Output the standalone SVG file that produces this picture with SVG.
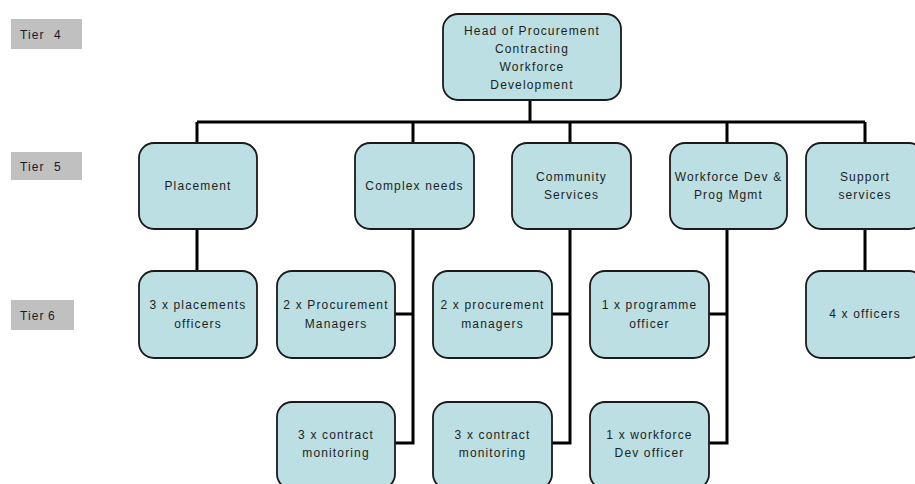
<svg xmlns="http://www.w3.org/2000/svg" width="915" height="484" viewBox="0 0 915 484">
<style>
.tier{fill:#c0c0c0}
.tl{font-family:"Liberation Sans",Arial,sans-serif;font-size:12px;fill:#1a1a2a;letter-spacing:1.1px}
.n{fill:#bbdfe2;stroke:#1a1a1a;stroke-width:1.8}
.t{font-family:"Liberation Sans",Arial,sans-serif;font-size:12px;fill:#1e1e1e;letter-spacing:1.15px;text-anchor:middle}
.c{fill:none;stroke:#000;stroke-width:3}
</style>
<rect width="915" height="484" fill="#fff"/>
<g id="tier-labels">
<g id="tier4"><rect class="tier" x="11" y="19" width="71" height="30"/><text class="tl" x="20" y="39" word-spacing="5">Tier 4</text></g>
<g id="tier5"><rect class="tier" x="11" y="152" width="71" height="28"/><text class="tl" x="20" y="171" word-spacing="5">Tier 5</text></g>
<g id="tier6"><rect class="tier" x="11" y="300" width="63" height="30"/><text class="tl" x="20" y="320" word-spacing="-1">Tier 6</text></g>
</g>
<g id="connectors">
<path class="c" d="M530 100V122M197 122H865M197 122V143M413 122V143M570 122V143M727 122V143M865 122V143"/>
<path class="c" d="M197 229V271M865 229V271"/>
<path class="c" d="M413 229V443H395M413 314H395"/>
<path class="c" d="M570 229V443H552M570 314H552"/>
<path class="c" d="M727 229V443H709M727 314H709"/>
</g>
<g id="head"><rect class="n" x="443" y="14" width="178" height="86" rx="15"/><text class="t" x="532" y="35">Head of Procurement</text><text class="t" x="532" y="53">Contracting</text><text class="t" x="532" y="71">Workforce</text><text class="t" x="532" y="89">Development</text></g>
<g id="placement"><rect class="n" x="139" y="143" width="118" height="86" rx="15"/><text class="t" x="198" y="190">Placement</text></g>
<g id="complex"><rect class="n" x="355" y="143" width="119" height="86" rx="15"/><text class="t" x="414.5" y="190">Complex needs</text></g>
<g id="community"><rect class="n" x="512" y="143" width="119" height="86" rx="15"/><text class="t" x="571.5" y="181">Community</text><text class="t" x="571.5" y="199">Services</text></g>
<g id="workforce"><rect class="n" x="670" y="143" width="117" height="86" rx="15"/><text class="t" x="728.5" y="181">Workforce Dev &amp;</text><text class="t" x="728.5" y="199">Prog Mgmt</text></g>
<g id="support"><rect class="n" x="806" y="143" width="118" height="86" rx="15"/><text class="t" x="865" y="181">Support</text><text class="t" x="865" y="199">services</text></g>
<g id="placements-officers"><rect class="n" x="139" y="271" width="118" height="87" rx="15"/><text class="t" x="198" y="309">3 x placements</text><text class="t" x="198" y="328">officers</text></g>
<g id="proc-managers-1"><rect class="n" x="277" y="271" width="118" height="87" rx="15"/><text class="t" x="336" y="309">2 x Procurement</text><text class="t" x="336" y="328">Managers</text></g>
<g id="contract-1"><rect class="n" x="277" y="402" width="118" height="87" rx="15"/><text class="t" x="336" y="439">3 x contract</text><text class="t" x="336" y="457">monitoring</text></g>
<g id="proc-managers-2"><rect class="n" x="433" y="271" width="119" height="87" rx="15"/><text class="t" x="492.5" y="309">2 x procurement</text><text class="t" x="492.5" y="328">managers</text></g>
<g id="contract-2"><rect class="n" x="433" y="402" width="119" height="87" rx="15"/><text class="t" x="492.5" y="439">3 x contract</text><text class="t" x="492.5" y="457">monitoring</text></g>
<g id="programme-officer"><rect class="n" x="590" y="271" width="119" height="87" rx="15"/><text class="t" x="649.5" y="309">1 x programme</text><text class="t" x="649.5" y="328">officer</text></g>
<g id="workforce-officer"><rect class="n" x="590" y="402" width="119" height="87" rx="15"/><text class="t" x="649.5" y="439">1 x workforce</text><text class="t" x="649.5" y="457">Dev officer</text></g>
<g id="officers"><rect class="n" x="806" y="271" width="118" height="87" rx="15"/><text class="t" x="865" y="318">4 x officers</text></g>
</svg>
